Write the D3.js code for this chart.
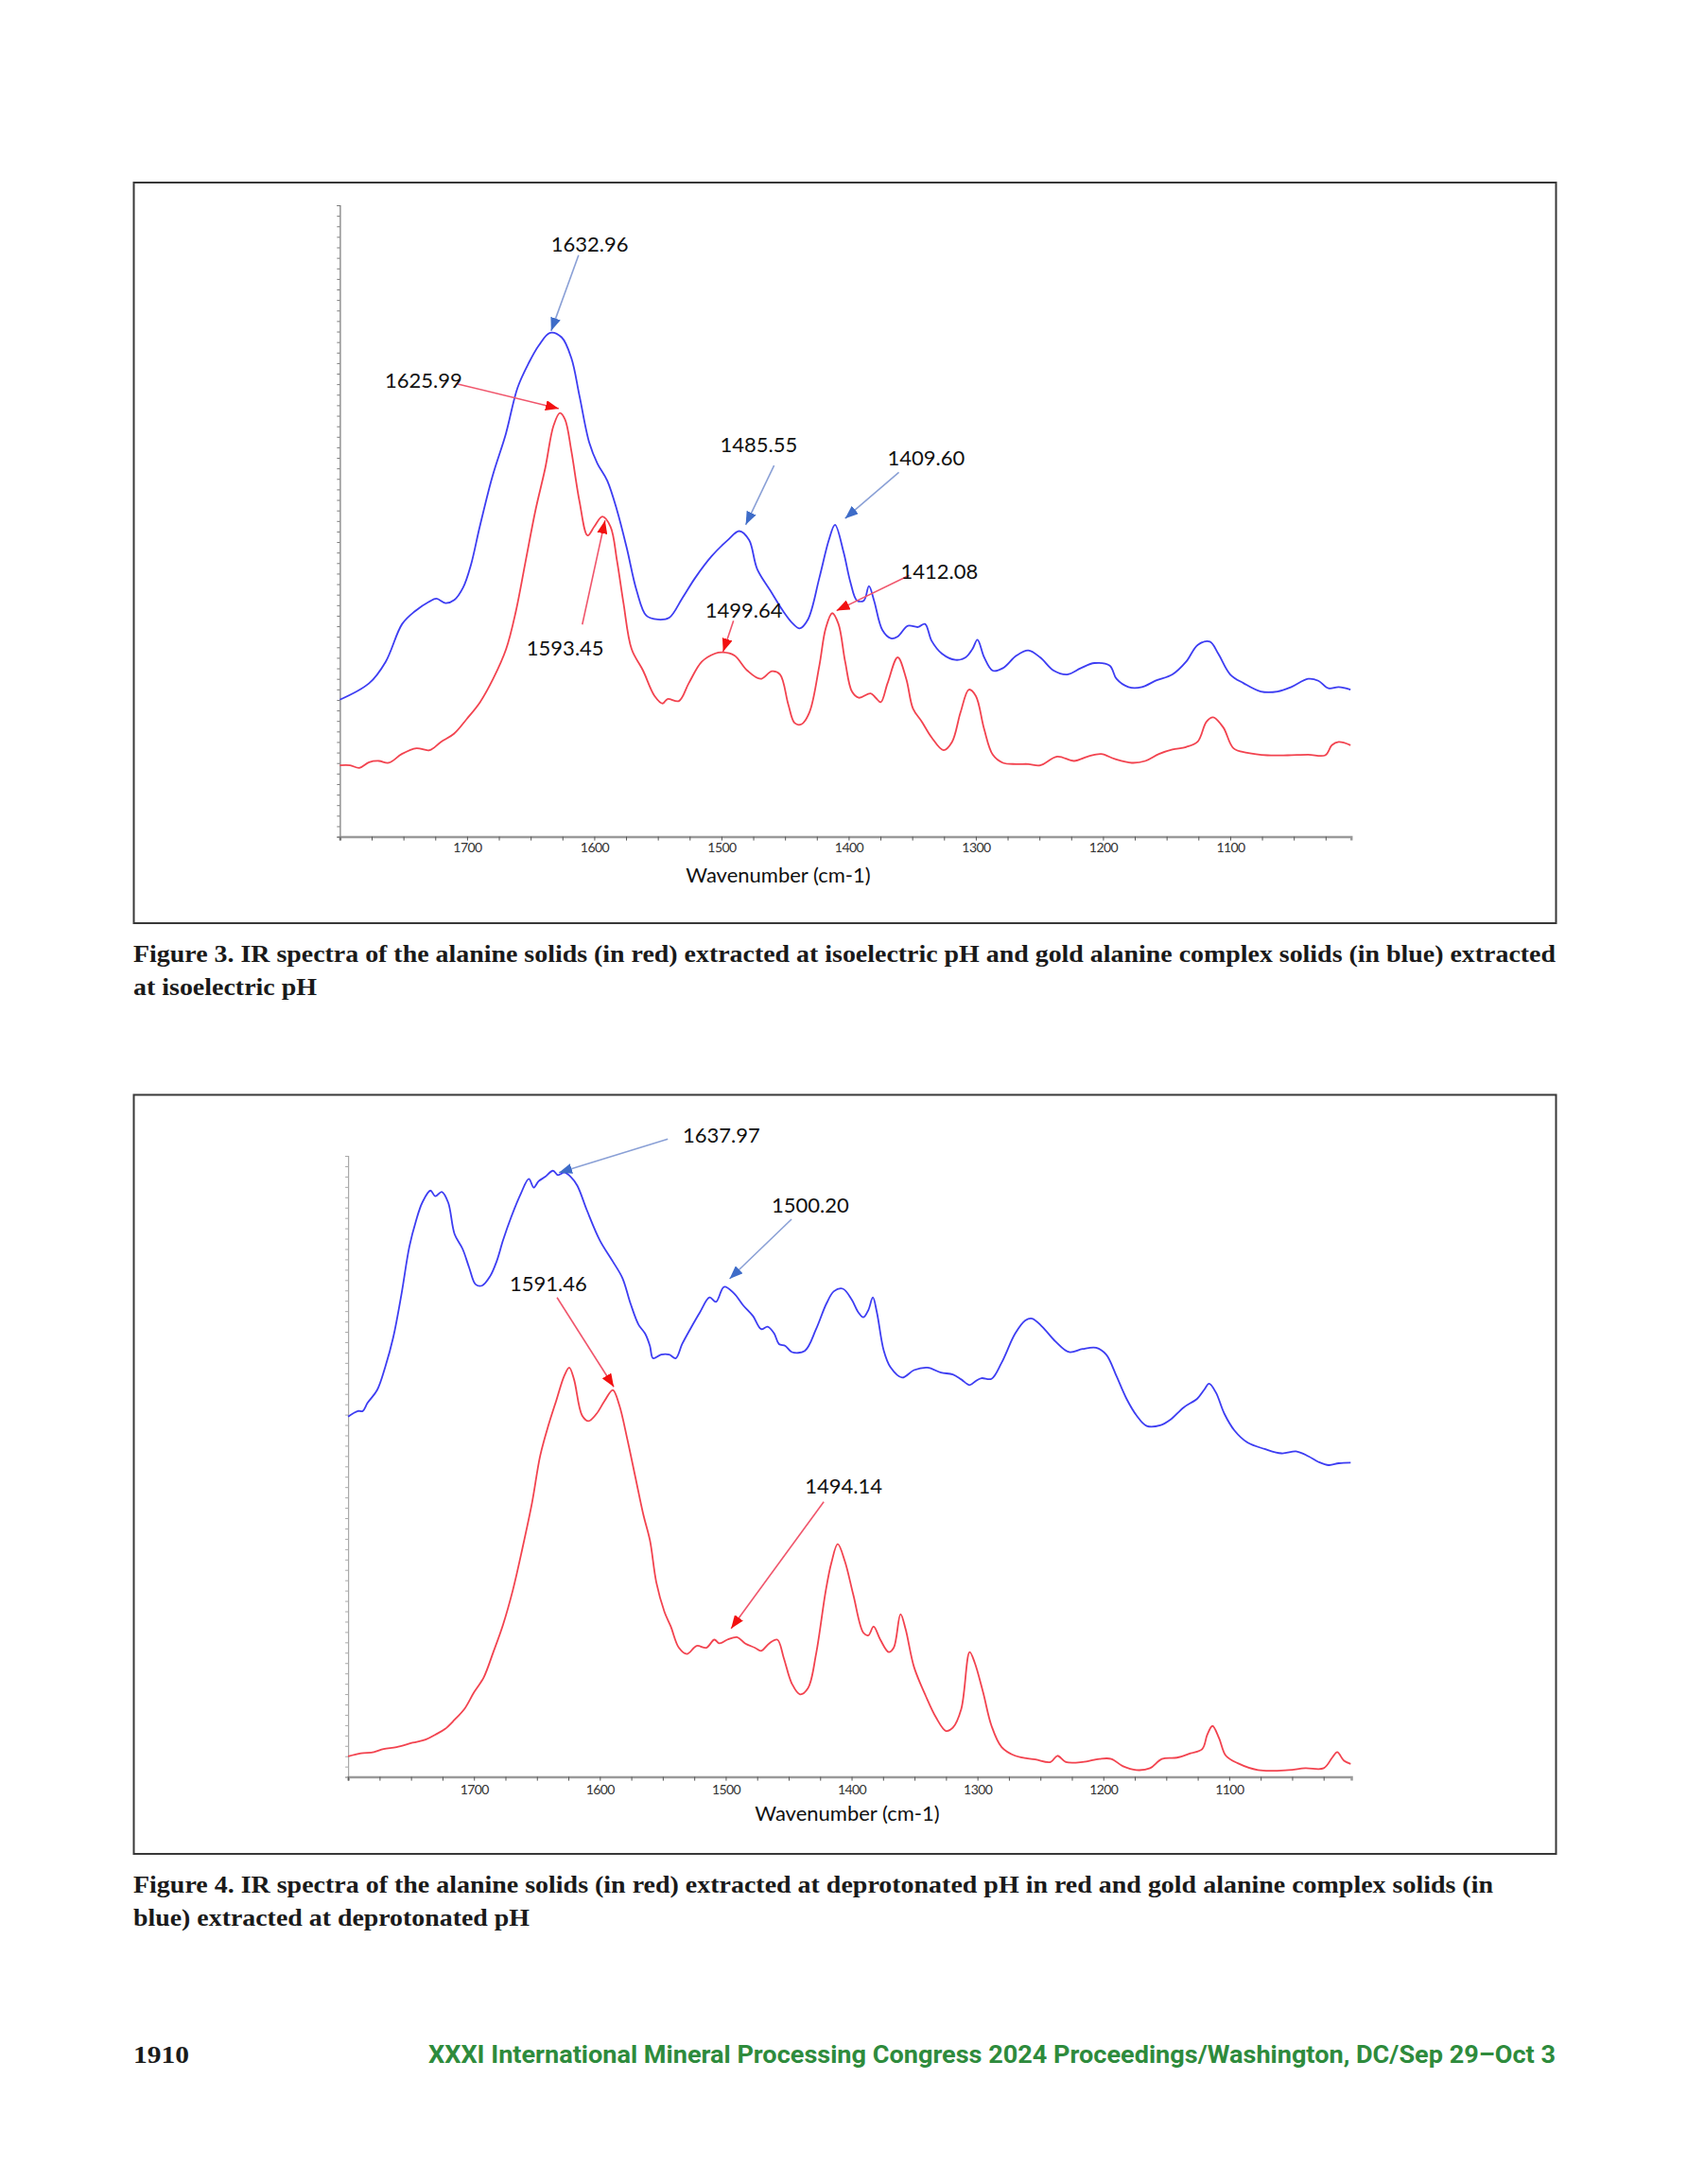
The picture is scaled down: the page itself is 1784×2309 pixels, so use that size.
<!DOCTYPE html>
<html>
<head>
<meta charset="utf-8">
<script src="https://cdn.jsdelivr.net/npm/d3@7"></script>
<style>
  body { margin: 0; background: #fff; }
  svg { display: block; }
  .tick text { font-family: Lato, "DejaVu Sans", sans-serif; }
</style>
</head>
<body>
<div id="page"></div>
<script>
// wavenumber range shown on each x axis (cm-1, reversed)
const fig3Range = [1800, 1005];
const fig4Range = [1800, 1003];
const xTickLabels = [1700, 1600, 1500, 1400, 1300, 1200, 1100];

// Figure 3 spectra, [wavenumber, relative absorbance 0-100]
const fig3Blue = [
  [1800, 21.7], [1777, 24.3], [1764, 27.7], [1751, 33.7], [1741, 35.7], [1730, 37.2], [1724, 37.7],
  [1717, 37.0], [1710, 37.5], [1703, 39.5], [1697, 43.0], [1690, 49.1], [1680, 57.1], [1669.5, 63.8],
  [1660.3, 71.1], [1651.3, 75.1], [1643.6, 77.8], [1634.7, 79.8], [1625.7, 79.1], [1618, 75.8],
  [1611.6, 69.8], [1603.9, 62.4], [1597.5, 59.1], [1589.8, 56.4], [1582.1, 51.7], [1574.4, 45.7],
  [1566.7, 39.0], [1559, 35.0], [1550, 34.4], [1541, 34.7], [1531, 37.7], [1520.6, 41.0],
  [1507.8, 44.4], [1494.9, 47.0], [1486, 48.4], [1478.3, 47.0], [1471.9, 42.4], [1461.6, 39.0],
  [1451.4, 35.7], [1443.6, 33.7], [1438.5, 33.0], [1432, 34.4], [1423, 41.0], [1415.5, 47.0],
  [1410.7, 49.4], [1404, 45.1], [1398.7, 40.4], [1393.4, 37.4], [1388, 37.4], [1384, 39.7],
  [1380, 37.4], [1373.4, 32.7], [1366.7, 31.4], [1361.4, 31.7], [1353.4, 33.4], [1345.4, 33.2],
  [1340, 33.7], [1334.7, 31.0], [1326.7, 29.0], [1316, 28.0], [1308, 28.4], [1302.7, 29.7],
  [1298.7, 31.2], [1293.4, 28.4], [1286.7, 26.3], [1278.7, 26.7], [1268, 28.7], [1258.7, 29.5],
  [1249.4, 28.4], [1238.7, 26.3], [1228, 25.7], [1217.4, 26.7], [1206.7, 27.5], [1194.7, 27.1],
  [1189.4, 25.0], [1180, 23.7], [1169.4, 23.7], [1158.7, 24.7], [1145.4, 25.7], [1134.7, 27.7],
  [1125.4, 30.4], [1116, 30.9], [1109.4, 29.0], [1100, 25.7], [1089.4, 24.3], [1076, 23.0],
  [1062.7, 23.0], [1052, 23.7], [1038.7, 25.0], [1030.7, 24.7], [1022.7, 23.5], [1014.7, 23.7],
  [1005.4, 23.3]
];
const fig3Red = [
  [1800, 11.3], [1792, 11.3], [1784.7, 10.9], [1777, 11.8], [1769.3, 12.0], [1761.6, 11.7],
  [1751.3, 13.1], [1739.8, 14.0], [1729.5, 13.7], [1720.6, 15.0], [1710.3, 16.3], [1700, 18.7],
  [1689.8, 21.3], [1679.5, 25.0], [1669.3, 29.7], [1661.6, 35.7], [1653.9, 43.7], [1646.2, 51.7],
  [1638.5, 58.4], [1632, 65.1], [1627, 67.1], [1623, 66.1], [1618, 61.1], [1611.6, 53.1],
  [1605.2, 47.7], [1600, 49.1], [1593.6, 50.7], [1587.2, 49.1], [1582.1, 43.7], [1577, 37.0],
  [1570.6, 29.7], [1561.6, 26.3], [1552.6, 22.3], [1546.2, 21.1], [1542.4, 21.8], [1533.4, 21.5],
  [1525.7, 24.3], [1515.5, 27.7], [1505.2, 29.0], [1498.8, 29.2], [1489.8, 28.7], [1479.6, 26.3],
  [1469.3, 25.0], [1460.3, 26.2], [1453.9, 25.7], [1447.5, 21.0], [1442.4, 18.0], [1437.2, 17.8],
  [1430.8, 19.7], [1423.1, 27.0], [1418, 33.0], [1412.9, 35.4], [1408, 33.7], [1402.7, 27.7],
  [1397.4, 23.0], [1392, 22.0], [1382.7, 22.7], [1378.7, 22.0], [1374.7, 21.3], [1369.4, 24.3],
  [1361.4, 28.4], [1354.7, 25.0], [1349.4, 20.3], [1342.7, 18.3], [1334.7, 15.7], [1325.4, 13.7],
  [1318.7, 15.0], [1312, 19.7], [1305.4, 23.3], [1300, 22.3], [1293.4, 17.0], [1286.7, 13.0],
  [1278.7, 11.7], [1268, 11.5], [1258.7, 11.5], [1249.4, 11.3], [1236, 12.7], [1222.7, 12.0],
  [1212, 12.7], [1201.4, 13.1], [1190.7, 12.3], [1177.4, 11.7], [1166.7, 12.0], [1156, 13.1],
  [1145.4, 13.8], [1134.7, 14.2], [1125.4, 15.1], [1118.7, 18.2], [1113.4, 18.9], [1105.4, 17.3],
  [1097.4, 14.0], [1086.7, 13.3], [1070.7, 12.9], [1054.7, 12.9], [1038.7, 13.0], [1025.3, 12.9],
  [1020, 14.5], [1014.7, 15.0], [1005.4, 14.5]
];

// Figure 4 spectra
const fig4Blue = [
  [1800, 58.0], [1792.3, 58.9], [1788.4, 58.9], [1784.6, 60.2], [1776.9, 62.3], [1770.5, 66.0],
  [1764.1, 70.8], [1757.7, 77.6], [1751.3, 85.4], [1746.1, 89.5], [1741, 92.5], [1734.6, 94.4],
  [1730.7, 93.5], [1725.6, 94.2], [1720.5, 92.5], [1715.4, 87.4], [1709, 85.0], [1703.8, 82.0],
  [1698.7, 79.3], [1693.6, 79.1], [1687.2, 80.6], [1682, 83.0], [1676.9, 86.4], [1670.5, 90.1],
  [1662.8, 93.9], [1656.4, 96.3], [1652.5, 94.9], [1648.7, 95.9], [1643.6, 96.6], [1637.2, 97.6],
  [1633.3, 96.9], [1628.2, 97.3], [1623, 96.6], [1617.9, 95.2], [1610.2, 91.2], [1600, 86.4],
  [1589.7, 83.0], [1582, 80.3], [1575.6, 76.2], [1569.2, 72.8], [1564.1, 71.4], [1560.2, 69.4],
  [1557.7, 67.4], [1551.3, 68.0], [1544.9, 68.0], [1539.7, 67.4], [1534.6, 69.7], [1528.2, 72.1],
  [1520.5, 74.8], [1512.8, 77.2], [1507.7, 76.5], [1501.3, 78.9], [1493.6, 77.9], [1486, 75.9],
  [1478.3, 74.2], [1471.8, 72.1], [1466.7, 72.5], [1461.5, 71.4], [1457.7, 69.7], [1452.6, 69.4],
  [1447.4, 68.4], [1437.2, 68.6], [1428.2, 72.1], [1420, 76.2], [1414, 78.2], [1407, 78.6],
  [1400, 76.9], [1394.6, 74.8], [1390.6, 74.0], [1386.6, 75.2], [1383.1, 77.2], [1379.9, 74.8],
  [1374.5, 68.7], [1369.2, 66.0], [1359.8, 64.3], [1350.4, 65.5], [1339.7, 65.9], [1329, 65.1],
  [1319.6, 64.8], [1312.9, 64.0], [1306.2, 63.1], [1301, 63.8], [1296.8, 64.2], [1288.8, 64.1],
  [1280.8, 66.7], [1270, 71.4], [1262, 73.5], [1256.6, 73.8], [1248.6, 72.5], [1237.9, 70.1],
  [1227.2, 68.4], [1216.5, 68.9], [1205.7, 69.1], [1197.7, 68.0], [1189.7, 64.6], [1181.6, 60.9],
  [1173.6, 58.2], [1165.5, 56.5], [1154.8, 56.6], [1146.8, 57.5], [1136.1, 59.5], [1125.4, 60.9],
  [1120, 62.3], [1116, 63.3], [1110.6, 61.9], [1103.9, 58.5], [1095.9, 55.8], [1085.2, 53.8],
  [1071.8, 52.8], [1058.4, 52.1], [1046.3, 52.4], [1036.9, 51.6], [1028.9, 50.7], [1020.9, 50.2],
  [1012.9, 50.5], [1003.5, 50.6]
];
const fig4Red = [
  [1800, 3.3], [1789.7, 3.8], [1779.5, 4.0], [1771.8, 4.5], [1761.5, 4.8], [1748.7, 5.5],
  [1738.4, 6.0], [1730.7, 6.8], [1723.1, 7.7], [1715.4, 9.2], [1707.7, 10.9], [1700, 13.6],
  [1692.3, 16.0], [1684.6, 20.1], [1676.9, 24.5], [1669.2, 30.0], [1661.5, 36.8], [1653.8, 44.2],
  [1647.4, 51.7], [1641, 56.5], [1634.6, 60.6], [1628.2, 64.6], [1624.3, 65.9], [1620.5, 64.0],
  [1614.1, 58.2], [1609, 57.3], [1602.5, 58.5], [1596.1, 60.6], [1589.7, 62.3], [1584.6, 59.9],
  [1578.2, 54.4], [1571.8, 48.3], [1565.4, 42.2], [1560.2, 38.1], [1555.1, 31.3], [1548.7, 26.6],
  [1543.6, 24.2], [1537.2, 20.8], [1530.8, 19.8], [1523.1, 21.1], [1515.4, 20.8], [1509, 22.1],
  [1505.1, 21.5], [1498.7, 22.1], [1491, 22.5], [1484.6, 21.5], [1476.9, 20.8], [1471.8, 20.3],
  [1465.4, 21.5], [1459, 22.1], [1453.8, 19.1], [1447.4, 15.0], [1441, 13.3], [1434.6, 14.3],
  [1428.2, 19.8], [1420.5, 30.0], [1416, 34.5], [1411, 37.5], [1405.3, 34.7], [1398.6, 29.3],
  [1390.6, 23.2], [1386.6, 22.8], [1382.5, 24.2], [1377.2, 22.1], [1370.5, 20.1], [1366.5, 20.8],
  [1361.1, 26.2], [1357.1, 23.8], [1350.4, 17.7], [1341, 13.0], [1333, 9.6], [1325, 7.4],
  [1319.6, 7.9], [1312.9, 10.9], [1306.2, 20.1], [1302.2, 18.4], [1295.5, 13.6], [1288.8, 8.2],
  [1280.8, 4.8], [1270, 3.4], [1254, 2.8], [1241.9, 2.4], [1236.5, 3.4], [1229.8, 2.4],
  [1216.5, 2.4], [1203.1, 2.9], [1193.7, 2.9], [1184.3, 1.7], [1173.6, 1.1], [1162.9, 1.4],
  [1153.5, 2.9], [1141.5, 3.1], [1130.7, 3.8], [1121.4, 4.5], [1117.4, 6.8], [1113.3, 8.2],
  [1108, 6.2], [1102.6, 3.4], [1093.2, 2.2], [1077.1, 1.1], [1053, 1.1], [1039.6, 1.4],
  [1024.9, 1.4], [1018.2, 3.1], [1014.2, 4.0], [1008.8, 2.6], [1003.5, 2.1]
];

// peak labels: label start, line start and arrow tip, all in chart units
const fig3Peaks = [
  { text: "1632.96", series: "blue", at: [1633.9, 92.7], from: [1612.3, 92.1], tip: [1633.9, 80.1] },
  { text: "1625.99", series: "red", at: [1764.6, 71.1], from: [1707.4, 71.7], tip: [1627.9, 67.8] },
  { text: "1593.45", series: "red", at: [1653.2, 28.7], from: [1609.4, 33.6], tip: [1591.5, 50.1] },
  { text: "1485.55", series: "blue", at: [1501, 60.9], from: [1458.6, 58.8], tip: [1480.9, 49.4] },
  { text: "1499.64", series: "red", at: [1512.8, 34.7], from: [1490.5, 34.2], tip: [1498.7, 29.3] },
  { text: "1409.60", series: "blue", at: [1369.4, 58.8], from: [1360.5, 57.7], tip: [1402.8, 50.4] },
  { text: "1412.08", series: "red", at: [1359, 40.8], from: [1352.3, 41.4], tip: [1409.5, 35.8] },
];
const fig4Peaks = [
  { text: "1637.97", series: "blue", at: [1534.1, 102.1], from: [1546, 102.7], tip: [1632.5, 97.3] },
  { text: "1500.20", series: "blue", at: [1463.5, 90.9], from: [1447.7, 89.8], tip: [1496.9, 80.2] },
  { text: "1591.46", series: "red", at: [1671.6, 78.2], from: [1634, 77.2], tip: [1588.9, 62.8] },
  { text: "1494.14", series: "red", at: [1437.1, 45.6], from: [1422.1, 44.3], tip: [1495.7, 23.9] },
];

const colors = {
  blue: "#3d3df2", red: "#f2434f",
  blueLine: "#8aa0d6", blueHead: "#3e6cc8",
  redLine: "#f0566c", redHead: "#f21010",
};

const svg = d3.select("#page").append("svg").attr("width", 1784).attr("height", 2309);

const defs = svg.append("defs");
["blue", "red"].forEach((key) => {
  defs.append("marker")
    .attr("id", `head-${key}`)
    .attr("markerUnits", "userSpaceOnUse")
    .attr("markerWidth", 14).attr("markerHeight", 11)
    .attr("refX", 14).attr("refY", 5.5)
    .attr("orient", "auto")
    .append("path")
    .attr("d", "M0,0 L14,5.5 L0,11 Z")
    .attr("fill", colors[`${key}Head`]);
});

function drawFigure(layout, range, blue, red, peaks) {
  const [fx0, fy0, fx1, fy1] = layout.frame;
  svg.append("rect")
    .attr("x", fx0).attr("y", fy0).attr("width", fx1 - fx0).attr("height", fy1 - fy0)
    .attr("fill", "none").attr("stroke", "#383838").attr("stroke-width", 2);

  const x = d3.scaleLinear().domain(range).range([layout.left, layout.right]);
  const y = d3.scaleLinear().domain([0, 100]).range([layout.bottom, layout.top]);
  const g = svg.append("g");

  // y axis: unlabeled dotted ruler
  const yAxis = g.append("g")
    .attr("transform", `translate(${layout.left},0)`)
    .call(d3.axisLeft(y).tickValues(d3.range(0, 100.01, 100 / 60)).tickSize(3).tickFormat(""));
  yAxis.select(".domain").attr("stroke", layout.yColor).attr("stroke-width", 1.2);
  yAxis.selectAll(".tick line").attr("stroke", layout.yColor);

  // x axis: minor ticks every 25 cm-1, labels every 100
  const minor = g.append("g")
    .attr("transform", `translate(0,${layout.bottom})`)
    .call(d3.axisBottom(x).tickValues(d3.range(1800, range[1], -25)).tickSize(4).tickFormat(""));
  minor.select(".domain").attr("stroke", "#9a9a9a").attr("stroke-width", 2.5);
  minor.selectAll(".tick line").attr("stroke", "#555");

  const major = g.append("g")
    .attr("transform", `translate(0,${layout.bottom})`)
    .call(d3.axisBottom(x).tickValues(xTickLabels).tickSize(0).tickPadding(layout.labelPad).tickFormat(d3.format("d")));
  major.select(".domain").remove();
  major.selectAll(".tick text")
    .attr("font-size", 14).attr("fill", "#333").attr("letter-spacing", -0.6);

  g.append("text")
    .attr("x", layout.titleX).attr("y", layout.titleY)
    .attr("text-anchor", "middle")
    .attr("font-family", "Lato, 'DejaVu Sans', sans-serif")
    .attr("font-size", 22).attr("fill", "#111")
    .text("Wavenumber (cm-1)");

  const line = d3.line()
    .x((d) => x(d[0]))
    .y((d) => y(d[1]))
    .curve(d3.curveCatmullRom.alpha(0.5));

  g.append("path").datum(blue)
    .attr("fill", "none").attr("stroke", colors.blue).attr("stroke-width", 1.8).attr("d", line);
  g.append("path").datum(red)
    .attr("fill", "none").attr("stroke", colors.red).attr("stroke-width", 1.8).attr("d", line);

  peaks.forEach((p) => {
    g.append("line")
      .attr("x1", x(p.from[0])).attr("y1", y(p.from[1]))
      .attr("x2", x(p.tip[0])).attr("y2", y(p.tip[1]))
      .attr("stroke", colors[`${p.series}Line`]).attr("stroke-width", 1.6)
      .attr("marker-end", `url(#head-${p.series})`);
    g.append("text")
      .attr("x", x(p.at[0])).attr("y", y(p.at[1]))
      .attr("font-family", "Lato, 'DejaVu Sans', sans-serif")
      .attr("font-size", 22).attr("fill", "#111")
      .text(p.text);
  });
}

drawFigure(
  { frame: [141.5, 193, 1645.5, 976], left: 359.4, right: 1428.7, top: 217, bottom: 884.6,
    labelPad: 6, titleX: 823, titleY: 933, yColor: "#777" },
  fig3Range, fig3Blue, fig3Red, fig3Peaks
);
drawFigure(
  { frame: [141.5, 1157.5, 1645.5, 1960], left: 368.1, right: 1429, top: 1222, bottom: 1878.6,
    labelPad: 8, titleX: 896, titleY: 1925, yColor: "#aaa" },
  fig4Range, fig4Blue, fig4Red, fig4Peaks
);

// captions and page footer
const captions = [
  { text: "Figure 3. IR spectra of the alanine solids (in red) extracted at isoelectric pH and gold alanine complex solids (in blue) extracted", y: 1017, width: 1504 },
  { text: "at isoelectric pH", y: 1052, width: 194 },
  { text: "Figure 4. IR spectra of the alanine solids (in red) extracted at deprotonated pH in red and gold alanine complex solids (in", y: 2001, width: 1438 },
  { text: "blue) extracted at deprotonated pH", y: 2036, width: 419 },
];
captions.forEach((c) => {
  svg.append("text")
    .attr("x", 141).attr("y", c.y)
    .attr("font-family", "'Liberation Serif', 'DejaVu Serif', serif")
    .attr("font-weight", "bold").attr("font-size", 25).attr("fill", "#1a1a1a")
    .attr("textLength", c.width).attr("lengthAdjust", "spacingAndGlyphs")
    .text(c.text);
});

svg.append("text")
  .attr("x", 141).attr("y", 2181)
  .attr("font-family", "'Liberation Serif', 'DejaVu Serif', serif")
  .attr("font-weight", "bold").attr("font-size", 25).attr("fill", "#1a1a1a")
  .attr("textLength", 59).attr("lengthAdjust", "spacingAndGlyphs")
  .text("1910");

svg.append("text")
  .attr("x", 453).attr("y", 2181)
  .attr("font-family", "Roboto, 'Liberation Sans', sans-serif")
  .attr("font-weight", "bold").attr("font-size", 25).attr("fill", "#2e8b3c")
  .attr("textLength", 1192).attr("lengthAdjust", "spacingAndGlyphs")
  .text("XXXI International Mineral Processing Congress 2024 Proceedings/Washington, DC/Sep 29–Oct 3");
</script>
</body>
</html>
